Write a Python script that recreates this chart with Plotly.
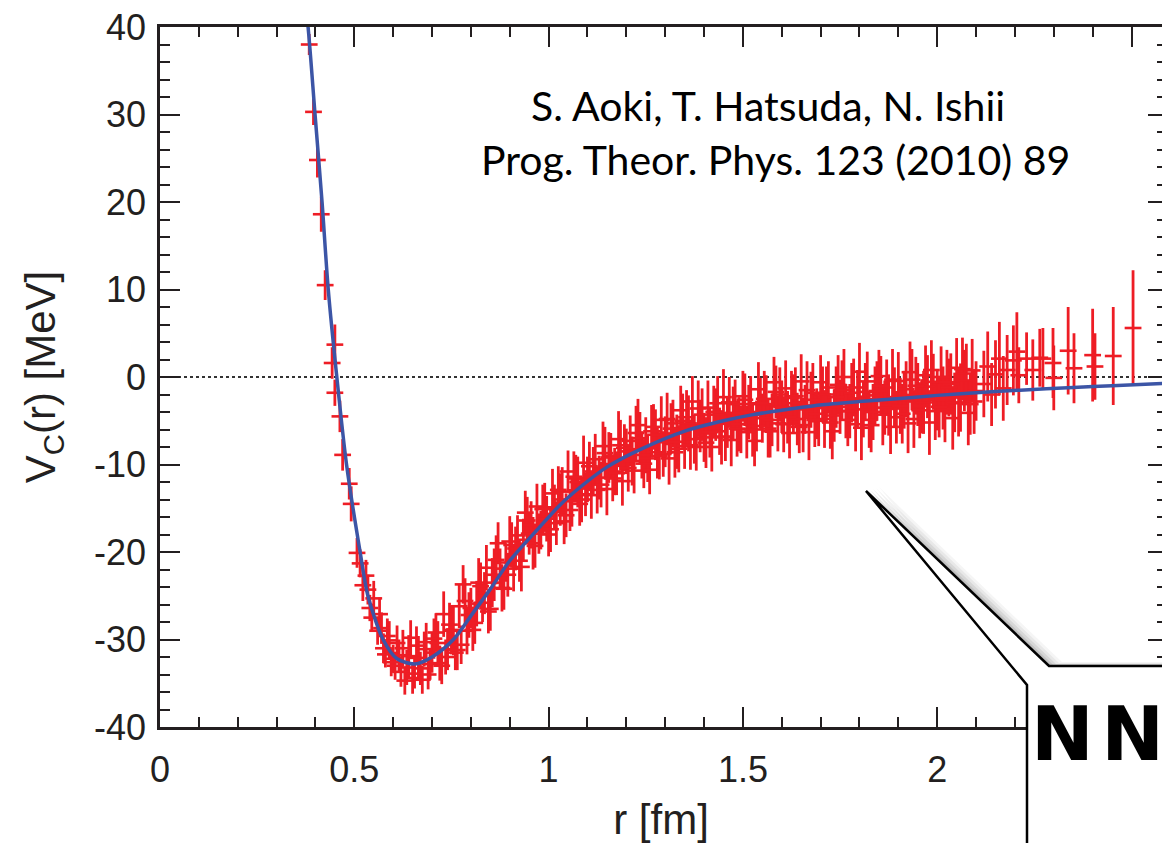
import plotly.graph_objects as go

# ---------------- data ----------------
# fitted curve
fit_r = [0.375, 0.381, 0.399, 0.417, 0.433, 0.455, 0.48, 0.515, 0.535, 0.574, 0.61, 0.656,
         0.70, 0.755, 0.80, 0.849, 0.90, 0.978, 1.03, 1.081, 1.15, 1.235, 1.356, 1.45,
         1.526, 1.60, 1.698, 1.80, 1.904, 2.0, 2.1, 2.213, 2.35, 2.45, 2.6]
fit_v = [42, 40, 30, 20, 10, 0, -10, -20, -25, -30, -32.2, -32.8,
         -32.0, -30.0, -27.3, -24.3, -21.0, -17.1, -14.6, -12.6, -10.3, -8.3, -6.1, -5.0,
         -4.3, -3.8, -3.2, -2.8, -2.45, -2.1, -1.8, -1.5, -1.2, -1.0, -0.7]

# lattice data points (r, V, error)
pts_r = [0.384, 0.395, 0.405, 0.415, 0.425, 0.443, 0.450, 0.450, 0.463, 0.470, 0.487, 0.492,
         0.507, 0.515, 0.522,
         0.53, 0.54, 0.55, 0.56, 0.57, 0.58, 0.59, 0.60,
         0.61, 0.62, 0.63, 0.64, 0.65, 0.66, 0.67, 0.68, 0.69, 0.70,
         0.605, 0.615, 0.625, 0.635, 0.645, 0.655, 0.665, 0.675, 0.685, 0.695,
         0.71, 0.72, 0.73, 0.74, 0.75, 0.76, 0.77, 0.78, 0.79, 0.80,
         0.715, 0.735, 0.755, 0.775, 0.795,
         0.81, 0.82, 0.83, 0.84, 0.85, 0.86, 0.87, 0.88, 0.89, 0.90,
         0.815, 0.835, 0.855, 0.875, 0.895,
         0.91, 0.92, 0.93, 0.94, 0.95, 0.96, 0.97, 0.98, 0.99, 1.00,
         0.915, 0.935, 0.955, 0.975, 0.995,
         1.01, 1.02, 1.03, 1.04, 1.05, 1.06, 1.07, 1.08, 1.09, 1.10,
         1.015, 1.035, 1.055, 1.075, 1.095,
         1.11, 1.12, 1.13, 1.14, 1.15, 1.16, 1.17, 1.18, 1.19, 1.20,
         1.115, 1.135, 1.155, 1.175, 1.195,
         1.21, 1.22, 1.23, 1.24, 1.25, 1.26, 1.27, 1.28, 1.29, 1.30,
         1.215, 1.235, 1.255, 1.275, 1.295,
         1.31, 1.32, 1.33, 1.34, 1.35, 1.36, 1.37, 1.38, 1.39, 1.40,
         1.315, 1.335, 1.355, 1.375, 1.395,
         1.41, 1.42, 1.43, 1.44, 1.45, 1.46, 1.47, 1.48, 1.49, 1.50,
         1.415, 1.435, 1.455, 1.475, 1.495,
         1.51, 1.52, 1.53, 1.54, 1.55, 1.56, 1.57, 1.58, 1.59, 1.60,
         1.515, 1.535, 1.555, 1.575, 1.595,
         1.61, 1.62, 1.63, 1.64, 1.65, 1.66, 1.67, 1.68, 1.69, 1.70,
         1.615, 1.635, 1.655, 1.675, 1.695,
         1.71, 1.72, 1.73, 1.74, 1.75, 1.76, 1.77, 1.78, 1.79, 1.80,
         1.715, 1.735, 1.755, 1.775, 1.795, 1.805,
         1.81, 1.82, 1.83, 1.84, 1.85, 1.86, 1.87, 1.88, 1.89, 1.90,
         1.815, 1.835, 1.855, 1.875, 1.895,
         1.91, 1.92, 1.93, 1.94, 1.95, 1.96, 1.97, 1.98, 1.99, 2.00,
         1.915, 1.935, 1.955, 1.975, 1.995,
         2.01, 2.02, 2.03, 2.04, 2.05, 2.06, 2.07, 2.08, 2.09, 2.10,
         2.015, 2.035, 2.055, 2.075, 2.095,
         2.12, 2.13, 2.14, 2.15, 2.16, 2.17, 2.18, 2.196, 2.205, 2.21,
         2.23, 2.246, 2.264, 2.272, 2.298, 2.30, 2.337, 2.352, 2.40, 2.406,
         2.453, 2.504]
pts_v = [38.0, 30.3, 24.8, 18.6, 10.5, 1.6, 3.7, -1.8, -4.5, -8.9, -12.2, -14.5,
         -20.1, -21.3, -23.8,
         -22.7, -26.4, -25.3, -29.0, -28.7, -31.7, -30.1, -32.2,
         -30.4, -33.7, -34.7, -31.9, -34.4, -30.7, -33.3, -31.1, -34.0, -31.5,
         -33.0, -31.8, -31.0, -33.2, -29.8, -33.9, -32.1, -34.6, -30.3, -32.8,
         -29.2, -32.7, -27.1, -31.1, -28.9, -31.5, -26.2, -23.7, -29.0, -26.4,
         -30.4, -32.0, -29.0, -30.6, -27.2,
         -28.1, -23.5, -25.8, -21.8, -26.5, -22.6, -19.0, -24.1, -21.2, -18.8,
         -25.9, -24.7, -23.5, -21.9, -22.6,
         -21.9, -18.1, -21.7, -15.5, -17.9, -19.0, -14.8, -17.5, -14.9, -18.0,
         -19.6, -18.6, -16.9, -17.9, -16.2,
         -13.3, -16.7, -14.0, -16.5, -10.8, -14.2, -11.6, -14.5, -9.8, -11.7,
         -14.9, -13.1, -15.2, -12.0, -13.4,
         -13.5, -9.4, -11.5, -7.9, -12.8, -9.0, -10.8, -7.1, -11.9, -8.5,
         -10.8, -12.3, -9.2, -11.0, -8.1,
         -7.3, -10.7, -5.5, -8.9, -7.8, -10.6, -5.7, -8.6, -4.9, -7.4,
         -9.6, -7.0, -9.3, -6.6, -8.8,
         -9.3, -5.3, -7.4, -3.8, -7.9, -5.3, -2.8, -8.0, -5.6, -6.9,
         -5.9, -8.2, -4.6, -7.1, -4.3,
         -3.5, -8.0, -4.3, -6.2, -2.3, -5.2, -7.2, -3.1, -5.4, -2.2,
         -6.3, -3.0, -6.8, -4.1, -6.0,
         -6.3, -3.1, -7.3, -1.4, -4.7, -3.1, -6.2, -0.6, -5.3, -3.4,
         -4.0, -5.6, -2.5, -4.9, -2.0,
         -1.3, -6.4, -3.0, -4.8, -0.5, -3.7, -6.3, -1.8, -4.2, -0.6,
         -4.6, -2.2, -5.5, -2.6, -5.0,
         -4.8, -1.2, -6.2, -2.3, -3.4, 0.0, -4.9, -1.8, -5.4, 0.6,
         -2.0, -4.4, -1.5, -3.9, -2.5, -5.8,
         -3.7, -0.5, -5.5, -2.1, 0.1, -4.3, -1.2, -5.7, -2.3, -0.45,
         -1.7, -4.0, -1.0, -3.2, -4.6,
         -4.2, -1.4, 0.55, -4.8, -2.0, -3.35, 0.2, -5.2, -0.55, -2.6,
         -2.6, -0.3, -3.8, -1.1, -3.9,
         0.0, -3.65, -1.2, -4.7, 1.05, -2.35, -0.4, -4.1, 0.75, -1.6,
         -2.4, -0.8, -3.0, 0.4, -2.8,
         -0.8, 1.2, -2.0, 0.3, 2.1, -1.3, 0.8, 1.9, 2.9, 0.2,
         2.1, 0.8, 2.2, 2.1, 1.6, -0.1, 3.0, 1.0, 2.5, 1.2,
         2.4, 5.6]
pts_e = [1.2, 1.5, 2.0, 2.0, 1.7, 1.8, 2.3, 1.5, 1.8, 1.8, 1.8, 2.0,
         1.7, 1.6, 1.8,
         1.8, 1.5, 2.0, 1.6, 1.8, 1.5, 2.2, 1.6,
         2.0, 1.7, 1.6, 2.4, 1.8, 2.2, 1.9, 2.0, 1.7, 2.3,
         1.6, 1.8, 2.1, 2.0, 2.0, 1.7, 2.5, 1.6, 2.2, 1.8,
         2.2, 2.0, 2.6, 2.4, 2.8, 2.0, 2.5, 2.2, 2.7, 2.3,
         2.5, 2.0, 2.8, 2.2, 2.6,
         2.4, 2.8, 2.2, 2.6, 2.5, 3.0, 2.4, 2.7, 2.2, 2.9,
         2.6, 2.4, 2.8, 2.3, 2.5,
         2.6, 2.3, 2.8, 2.5, 2.4, 3.0, 2.6, 2.2, 2.8, 2.5,
         2.5, 2.4, 2.7, 2.3, 2.6,
         2.8, 2.5, 3.0, 2.6, 2.4, 2.9, 2.7, 2.5, 3.1, 2.6,
         2.6, 2.8, 2.4, 2.9, 2.5,
         2.7, 2.9, 2.5, 2.8, 3.0, 2.6, 2.7, 3.2, 2.8, 2.6,
         2.8, 2.6, 2.9, 2.5, 2.7,
         2.9, 2.6, 3.0, 2.7, 3.2, 2.8, 2.6, 3.0, 2.7, 2.9,
         2.8, 3.0, 2.7, 2.9, 2.6,
         3.0, 2.7, 3.1, 2.8, 2.6, 3.2, 2.9, 2.7, 3.0, 2.8,
         2.9, 2.7, 3.1, 2.8, 3.0,
         3.1, 2.8, 3.0, 2.7, 3.2, 2.9, 3.0, 2.8, 3.1, 2.9,
         2.9, 3.1, 2.8, 3.0, 2.7,
         3.0, 3.2, 2.9, 3.1, 2.8, 3.3, 3.0, 2.9, 3.2, 3.0,
         3.1, 2.9, 3.2, 3.0, 3.1,
         3.2, 2.9, 3.3, 3.0, 3.1, 2.8, 3.2, 3.4, 2.9, 3.1,
         3.0, 3.3, 3.1, 3.2, 2.9,
         3.3, 3.0, 3.2, 3.5, 3.1, 3.2, 3.0, 3.4, 3.1, 3.3,
         3.2, 3.0, 3.4, 3.1, 3.3, 3.7,
         3.2, 3.4, 3.1, 3.3, 3.0, 3.5, 3.2, 3.1, 3.4, 3.3,
         3.3, 3.2, 3.4, 3.5, 3.0,
         3.4, 3.2, 3.5, 3.3, 3.6, 3.1, 3.4, 3.7, 3.2, 3.5,
         3.3, 3.5, 3.2, 3.6, 3.3,
         3.5, 3.8, 3.3, 3.6, 3.4, 3.9, 3.5, 3.7, 3.6, 3.4,
         3.6, 3.5, 3.8, 3.4, 3.7,
         3.8, 4.0, 3.6, 3.9, 4.2, 3.7, 4.0, 4.0, 4.5, 3.2,
         3.0, 3.5, 3.3, 3.5, 4.0, 3.7, 5.0, 4.0, 5.3, 3.8,
         5.6, 6.6]

# further lattice points filling the dense band
more_r = [0.535, 0.545, 0.565, 0.575, 0.585, 0.595,
          0.705, 0.725, 0.745, 0.765, 0.785, 0.805, 0.825, 0.845, 0.865, 0.885,
          0.905, 0.925, 0.945, 0.965, 0.985, 1.005, 1.025, 1.045, 1.065, 1.085,
          1.105, 1.125, 1.145, 1.165, 1.185, 1.205, 1.225, 1.245, 1.265, 1.285,
          1.305, 1.325, 1.345, 1.365, 1.385, 1.405, 1.425, 1.445, 1.465, 1.485,
          1.505, 1.525, 1.545, 1.565, 1.585, 1.605, 1.625, 1.645, 1.665, 1.685,
          1.705, 1.725, 1.745, 1.765, 1.785, 1.825, 1.845, 1.865, 1.885,
          1.905, 1.925, 1.945, 1.965, 1.985, 2.005, 2.025, 2.045, 2.065, 2.085]
more_v = [-24.3, -27.5, -27.1, -31.0, -29.6, -32.6,
          -29.9, -33.0, -28.3, -31.2, -25.6, -28.9, -23.9, -26.8, -20.9, -24.2,
          -19.2, -21.0, -16.4, -19.3, -15.1, -17.4, -12.9, -15.8, -11.4, -14.0,
          -10.2, -12.9, -8.7, -11.6, -7.8, -10.4, -6.4, -9.9, -6.2, -9.0,
          -4.8, -8.6, -5.0, -7.8, -3.6, -7.5, -4.0, -6.9, -2.9, -5.9,
          -2.6, -6.0, -3.0, -5.9, -1.7, -5.4, -2.4, -5.7, -1.5, -4.9,
          -2.0, -5.2, -0.9, -3.9, -1.2, -4.9, -1.6, -3.5, -0.3,
          -3.3, -5.3, -1.0, -2.9, 0.8, -3.4, -0.6, -2.9, 0.9, -3.1]
more_e = [1.7, 1.6, 1.9, 1.7, 2.0, 1.6,
          2.3, 2.1, 2.5, 2.3, 2.6, 2.4, 2.7, 2.5, 2.8, 2.4,
          2.6, 2.4, 2.7, 2.5, 2.8, 2.6, 2.7, 2.5, 2.9, 2.6,
          2.8, 2.7, 3.0, 2.6, 2.9, 2.7, 3.1, 2.8, 3.0, 2.7,
          3.0, 2.9, 3.1, 2.8, 3.2, 2.9, 3.0, 3.1, 2.9, 3.2,
          3.0, 3.1, 2.9, 3.3, 3.0, 3.2, 3.1, 3.0, 3.3, 3.1,
          3.2, 3.0, 3.4, 3.1, 3.3, 3.2, 3.4, 3.1, 3.5,
          3.2, 3.4, 3.3, 3.6, 3.4, 3.5, 3.7, 3.4, 3.6, 3.5]

x_ticks = [0, 0.5, 1, 1.5, 2, 2.5]
x_labels = ["0", "0.5", "1", "1.5", "2", ""]
y_ticks = [-40, -30, -20, -10, 0, 10, 20, 30, 40]
y_labels = ["-40", "-30", "-20", "-10", "0", "10", "20", "30", "40"]

# ---------------- figure ----------------
# the page's body margin is removed (see post_script), so the figure fills the window
W, H = 1162, 843
L, T = 160, 27
PW, PH = W - L, 700
B = H - T - PH

def px(x):
    return (x - L) / PW

def py(y):
    return (T + PH - y) / PH

RED = "#ee1d25"
BLUE = "#3c55a6"
INK = "#231f20"

all_r = pts_r + more_r
all_v = pts_v + more_v
all_e = pts_e + more_e

fig = go.Figure()
fig.add_trace(go.Scatter(
    x=all_r, y=all_v, mode="markers",
    marker=dict(symbol="line-ew", size=12, line=dict(color=RED, width=2.6)),
    error_y=dict(type="data", array=all_e, visible=True, color=RED, thickness=2.8, width=0),
    showlegend=False, hoverinfo="skip"))
fig.add_trace(go.Scatter(
    x=fit_r, y=fit_v, mode="lines", line=dict(color=BLUE, width=3.5, shape="spline", smoothing=0.8),
    showlegend=False, hoverinfo="skip"))
fig.add_trace(go.Scatter(x=[None], y=[None], yaxis="y2", showlegend=False, hoverinfo="skip"))

tick_font = dict(family="Liberation Sans, Arial, sans-serif", size=36, color=INK)
title_font = dict(family="Liberation Sans, Arial, sans-serif", size=42, color=INK)

fig.update_layout(
    width=W, height=H, margin=dict(l=L, r=0, t=T, b=B, pad=0, autoexpand=False),
    paper_bgcolor="white", plot_bgcolor="white",
    xaxis=dict(range=[0, PW / 388.6], tickvals=x_ticks, ticktext=x_labels, automargin=False,
               ticks="inside", ticklen=20, tickwidth=2, tickcolor=INK,
               minor=dict(dtick=0.1, ticks="inside", ticklen=10, tickwidth=2, tickcolor=INK),
               showline=True, linecolor=INK, linewidth=2.5, mirror="ticks",
               showgrid=False, zeroline=False, tickfont=tick_font, ticklabelstandoff=9,
               ticklabeloverflow="allow",
               title=dict(text="r [fm]", font=title_font, standoff=40)),
    yaxis=dict(range=[-40, 40], tickvals=y_ticks, ticktext=y_labels, automargin=False,
               ticks="inside", ticklen=20, tickwidth=2, tickcolor=INK,
               minor=dict(dtick=2, ticks="inside", ticklen=10, tickwidth=2, tickcolor=INK),
               showline=True, linecolor=INK, linewidth=2.5,
               showgrid=False, zeroline=False, tickfont=tick_font, ticklabelstandoff=4,
               ticklabeloverflow="allow",
               title=dict(text="V<sub>C</sub>(r) [MeV]", font=title_font, standoff=26)),
    yaxis2=dict(range=[-40, 40], overlaying="y", side="right", tickvals=y_ticks, automargin=False,
                showticklabels=False, ticks="inside", ticklen=14, tickwidth=2, tickcolor=INK,
                minor=dict(dtick=2, ticks="inside", ticklen=5, tickwidth=2, tickcolor=INK),
                showline=False, showgrid=False, zeroline=False),
)

# dotted zero line
fig.add_shape(type="line", xref="paper", yref="y", x0=0, x1=1, y0=0, y1=0,
              line=dict(color="#333333", width=2, dash="3px,3px"), layer="below")

# callout bubble with soft shadow (page pixel coordinates)
tip = (866, 491)
def bubble_path(dx=0, dy=0):
    pts = [tip, (1049, 666), (1200, 666), (1200, 900), (1027, 900), (1027, 685)]
    return "M " + " L ".join(f"{px(a + dx):.5f},{py(b + dy):.5f}" for a, b in pts) + " Z"

for k, op in [(13, 0.04), (10, 0.05), (7, 0.07), (4, 0.09), (2, 0.12)]:
    fig.add_shape(type="path", xref="paper", yref="paper", path=bubble_path(k, -k * 0.3),
                  fillcolor=f"rgba(0,0,0,{op})", line=dict(width=0), layer="above")
fig.add_shape(type="path", xref="paper", yref="paper", path=bubble_path(),
              fillcolor="white", line=dict(color="black", width=2.5), layer="above")

fig.add_annotation(xref="paper", yref="paper", x=px(1029), y=py(734), xanchor="left", yanchor="middle",
                   text="<b>N\u200aN</b>", showarrow=False,
                   font=dict(family="DejaVu Sans, sans-serif", size=75, color="black"))

ann_font = dict(family="Lato, Open Sans, sans-serif", size=41, color="black")
fig.add_annotation(xref="paper", yref="paper", x=px(768), y=py(105), xanchor="center", yanchor="middle",
                   text="S. Aoki, T. Hatsuda, N. Ishii", showarrow=False, font=ann_font)
fig.add_annotation(xref="paper", yref="paper", x=px(775), y=py(159), xanchor="center", yanchor="middle",
                   text="Prog. Theor. Phys. 123 (2010) 89", showarrow=False, font=ann_font)

fig.write_html("out.html", config={"displayModeBar": False},
               post_script="document.body.style.margin='0';document.body.style.overflow='hidden';")
